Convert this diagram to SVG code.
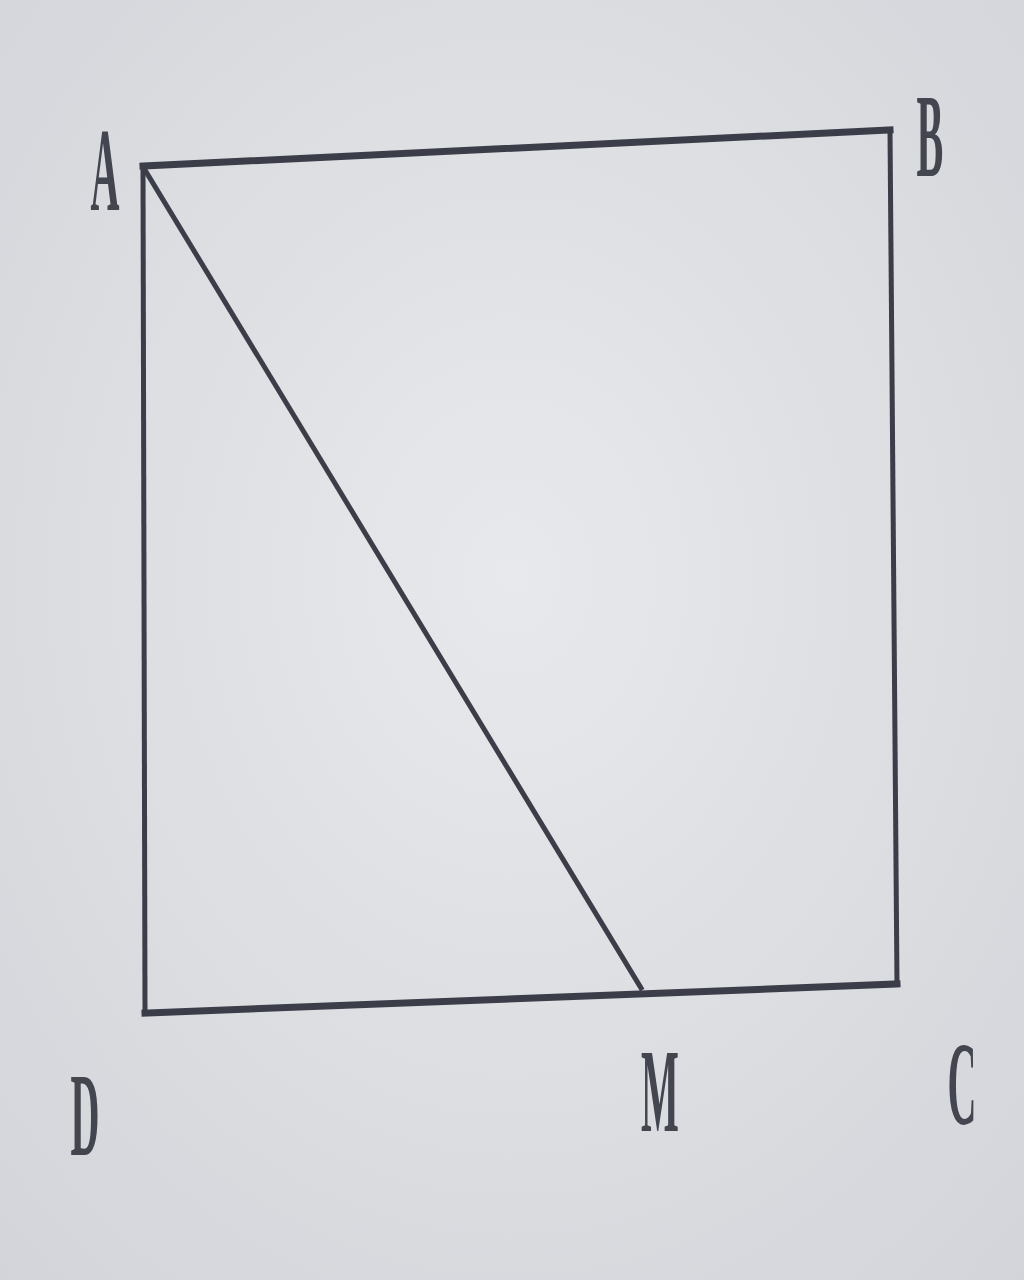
<svg xmlns="http://www.w3.org/2000/svg" width="1024" height="1280" viewBox="0 0 1024 1280">
<defs>
<radialGradient id="bg" cx="0.5" cy="0.45" r="0.75">
<stop offset="0" stop-color="#e8e9ec"/>
<stop offset="1" stop-color="#d2d4d9"/>
</radialGradient>
<style>
.ln{stroke:#3b3e49;fill:none;stroke-linecap:square;stroke-linejoin:miter}
.lb{font-family:"Liberation Serif","Times New Roman",serif;font-size:118px;font-weight:bold;fill:#43464f;text-anchor:middle}
</style>
</defs>
<rect width="1024" height="1280" fill="url(#bg)"/>
<g id="connectors">
<line class="ln" x1="143" y1="166" x2="890" y2="130" stroke-width="7"/>
<line class="ln" x1="890" y1="130" x2="897" y2="984" stroke-width="5"/>
<line class="ln" x1="897" y1="984" x2="145" y2="1013" stroke-width="7"/>
<line class="ln" x1="145" y1="1013" x2="143" y2="166" stroke-width="5"/>
<line class="ln" x1="145" y1="170" x2="641" y2="988" stroke-width="5"/>
</g>
<g id="A"><text class="lb" transform="translate(105,210) scale(0.34,1)">A</text></g>
<g id="B"><text class="lb" transform="translate(930,176) scale(0.34,1)">B</text></g>
<g id="C"><text class="lb" transform="translate(962,1124) scale(0.34,1)">C</text></g>
<g id="D"><text class="lb" transform="translate(85,1155) scale(0.34,1)">D</text></g>
<g id="M"><text class="lb" transform="translate(660,1131) scale(0.34,1)">M</text></g>
</svg>
